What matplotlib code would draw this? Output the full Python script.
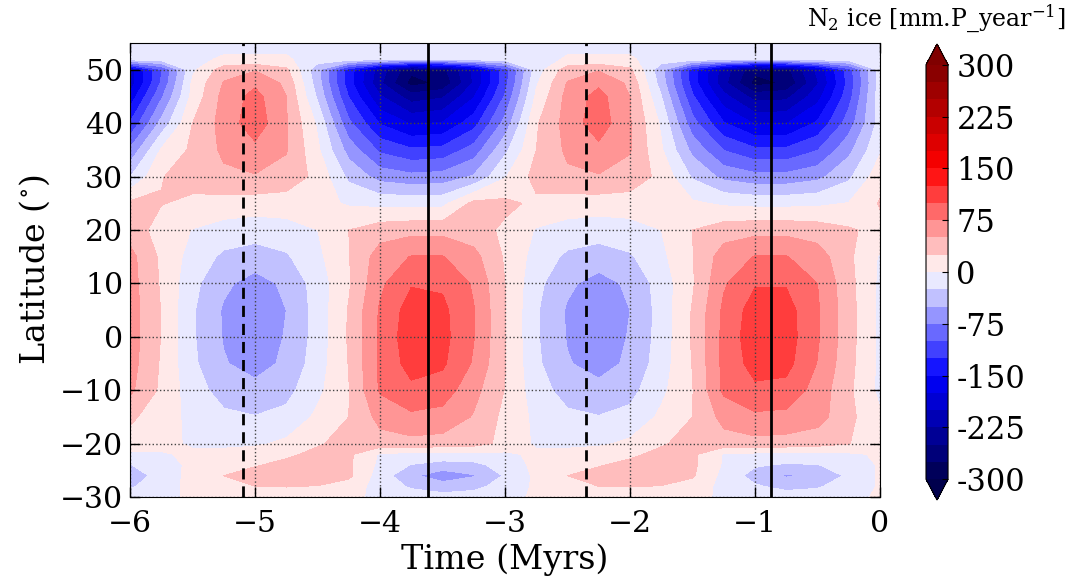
import numpy as np
import matplotlib
matplotlib.use('Agg')
import matplotlib.pyplot as plt

plt.rcParams['font.family'] = ['DejaVu Serif']
plt.rcParams['mathtext.fontset'] = 'dejavuserif'

# Time axis (Myrs) and latitude nodes (deg)
time_myr = [-6.0, -5.75, -5.5, -5.25, -5.0, -4.75, -4.5, -4.25, -4.0, -3.75, -3.5, -3.25,
            -3.0, -2.75, -2.5, -2.25, -2.0, -1.75, -1.5, -1.25, -1.0, -0.75, -0.5, -0.25, 0.0]
latitude = [-30, -28, -26, -24, -22, -20, -15, -10, -5, 0, 5, 10, 15, 20, 25,
            30, 35, 40, 45, 47.5, 50, 52, 55]

# N2 ice rate (mm.P_year^-1), one row per latitude, one column per time
ice_rate = [
    [-12, -8, 5, 8, 10, 10, 10, 8, -8, -14, -16, -14, -8, 4, 8, 10, 10, 10, 8, -5, -12, -14, -12, -6, 3],
    [-28, -12, 8, 12, 25, 26, 24, 15, -12, -28, -38, -32, -15, 4, 12, 25, 26, 24, 15, -8, -22, -32, -28, -12, 2],
    [-35, -18, 10, 25, 35, 38, 38, 30, -12, -45, -65, -52, -22, 5, 25, 35, 38, 38, 28, -8, -35, -53, -45, -20, 3],
    [-26, -10, 5, 14, 23, 32, 36, 29, -6, -26, -35, -32, -14, 6, 15, 23, 32, 36, 30, -3, -22, -28, -26, -12, 2],
    [-6, -3, 5, 8, 12, 20, 32, 30, -3, -8, -9, -8, -5, 5, 8, 12, 20, 32, 30, -2, -6, -7, -6, -4, 3],
    [15, 8, -4, -6, -4, 5, 22, 35, 40, 42, 40, 35, 18, -4, -6, -4, 5, 22, 35, 40, 42, 40, 35, 26, 5],
    [30, 10, -6, -20, -24, -18, 5, 25, 58, 70, 66, 48, 18, -6, -20, -24, -18, 5, 25, 58, 70, 68, 60, 32, 3],
    [55, 20, -14, -35, -42, -33, -6, 24, 78, 94, 88, 58, 24, -14, -35, -42, -33, -6, 24, 80, 95, 92, 65, 30, -6],
    [60, 22, -20, -48, -60, -45, -12, 26, 80, 110, 104, 72, 26, -20, -48, -60, -45, -12, 26, 82, 110, 108, 74, 33, -6],
    [62, 24, -22, -52, -66, -48, -15, 28, 80, 116, 108, 76, 26, -22, -52, -66, -48, -15, 28, 82, 116, 112, 78, 35, -6],
    [62, 24, -22, -53, -68, -50, -15, 27, 78, 112, 106, 76, 26, -22, -53, -68, -50, -15, 27, 80, 112, 110, 78, 35, -6],
    [60, 22, -18, -45, -60, -45, -14, 22, 70, 98, 96, 72, 25, -18, -45, -60, -45, -14, 22, 72, 98, 98, 75, 33, -5],
    [58, 20, -10, -30, -36, -28, -6, 24, 62, 76, 76, 58, 22, -10, -30, -36, -28, -6, 24, 62, 76, 76, 62, 30, -3],
    [38, 15, -1, -10, -14, -10, 0, 25, 38, 42, 42, 36, 20, -2, -10, -14, -10, 0, 25, 38, 42, 42, 38, 28, 18],
    [30, 26, 20, 15, 13, 13, 8, -3, -7, -8, -7, 32, 31, 20, 14, 13, 13, 12, 4, -4, -7, -7, -5, 1, 27],
    [-26, 24, 34, 45, 48, 40, 18, -31, -60, -68, -65, -47, -2, 34, 45, 48, 40, 18, -28, -57, -67, -67, -57, -30, 15],
    [-70, 3, 30, 55, 68, 52, 5, -60, -105, -121, -117, -89, -31, 25, 55, 68, 52, 3, -57, -101, -120, -120, -101, -57, -3],
    [-123, -42, 25, 60, 90, 52, -4, -94, -152, -178, -173, -135, -66, 22, 60, 90, 52, -4, -90, -148, -177, -176, -146, -88, -15],
    [-166, -79, 8, 58, 84, 50, -29, -126, -197, -238, -228, -177, -97, 5, 58, 84, 50, -24, -121, -192, -235, -232, -185, -110, -11],
    [-189, -97, 5, 52, 70, 45, -38, -139, -220, -285, -270, -197, -109, -3, 52, 70, 45, -36, -136, -217, -285, -272, -202, -117, -14],
    [-187, -102, -5, 38, 48, 30, -42, -137, -213, -268, -258, -194, -112, -13, 38, 48, 30, -42, -137, -213, -268, -258, -194, -112, -13],
    [-12, -12, -6, 3, 3, 3, -12, -12, -12, -12, -12, -12, -12, -12, 3, 3, 3, -12, -12, -12, -12, -12, -12, -12, -12],
    [-8, -8, -8, -8, -8, -8, -8, -8, -8, -8, -8, -8, -8, -8, -8, -8, -8, -8, -8, -8, -8, -8, -8, -8, -8],
]

# Reference epochs (Myrs)
dashed_times = [-5.1, -2.35]
solid_times = [-3.62, -0.87]

levels = list(range(-300, 301, 25))
cbar_ticks = [-300, -225, -150, -75, 0, 75, 150, 225, 300]

fig = plt.figure(figsize=(10.75, 5.82), dpi=100)
ax = fig.add_axes([0.121, 0.146, 0.6976, 0.780])

cs = ax.contourf(time_myr, latitude, np.array(ice_rate), levels=levels,
                 cmap='seismic', extend='both')

for t in dashed_times:
    ax.axvline(t, color='black', linestyle=(0, (4, 2.5)), linewidth=2)
for t in solid_times:
    ax.axvline(t, color='black', linestyle='-', linewidth=2)

ax.set_xlim(-6, 0)
ax.set_ylim(-30, 55)
ax.set_xticks([-6, -5, -4, -3, -2, -1, 0])
ax.set_yticks([-30, -20, -10, 0, 10, 20, 30, 40, 50])
ax.grid(True, linestyle=':', color='#444444', linewidth=1.0)
ax.tick_params(direction='in', top=True, right=True, length=7, width=1,
               labelsize=21.5)
ax.tick_params(axis='x', pad=9)
ax.tick_params(axis='y', pad=5)
ax.set_xlabel('Time (Myrs)', fontsize=24, labelpad=4)
ax.set_ylabel(r'Latitude ($^{\circ}$)', fontsize=24, labelpad=6)

cax = fig.add_axes([0.8614, 0.1409, 0.0205, 0.7835])
cb = fig.colorbar(cs, cax=cax, ticks=cbar_ticks, extend='both')
cb.ax.set_yticklabels([str(v) for v in cbar_ticks])
cb.ax.tick_params(labelsize=22, direction='in', length=4, pad=6)
fig.text(0.871, 0.969, r'N$_2$ ice [mm.P_year$^{-1}$]', fontsize=17,
         ha='center', va='center')

fig.savefig('out.png', dpi=100)
